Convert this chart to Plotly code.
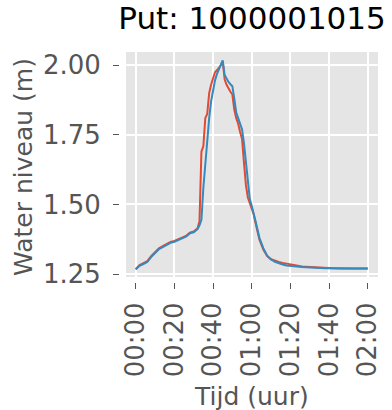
import plotly.graph_objects as go

# tijd in minuten
minuten = [0, 2, 4, 6, 8, 10, 12, 14, 16, 18, 20, 22, 24, 26, 28, 30, 32, 33, 34, 35,
           36, 37, 38, 39, 40, 41, 42, 43, 44, 45, 46, 47, 48, 49, 50, 51, 52, 53, 54, 55,
           56, 57, 58, 59, 60, 61, 62, 64, 66, 68, 70, 72, 74, 76, 78, 80, 82, 84, 86, 88,
           90, 94, 98, 102, 106, 110, 114, 118, 120]

niveau_rood = [1.267, 1.282, 1.289, 1.296, 1.314, 1.328, 1.342, 1.350, 1.359, 1.365,
               1.369, 1.374, 1.381, 1.387, 1.399, 1.403, 1.414, 1.440, 1.690, 1.710,
               1.810, 1.825, 1.900, 1.930, 1.955, 1.975, 1.982, 1.990, 2.000, 2.015,
               1.950, 1.930, 1.915, 1.905, 1.895, 1.840, 1.810, 1.790, 1.760, 1.735,
               1.650, 1.570, 1.525, 1.505, 1.490, 1.465, 1.432, 1.373, 1.338, 1.314,
               1.303, 1.297, 1.293, 1.290, 1.287, 1.284, 1.281, 1.279, 1.277, 1.276,
               1.275, 1.273, 1.272, 1.271, 1.270, 1.270, 1.270, 1.270, 1.270]

niveau_blauw = [1.267, 1.279, 1.286, 1.293, 1.311, 1.325, 1.339, 1.347, 1.356, 1.362,
                1.366, 1.371, 1.378, 1.384, 1.396, 1.400, 1.411, 1.425, 1.445, 1.560,
                1.650, 1.740, 1.810, 1.870, 1.915, 1.945, 1.968, 1.985, 1.995, 2.018,
                1.965, 1.950, 1.940, 1.932, 1.925, 1.880, 1.830, 1.810, 1.790, 1.770,
                1.720, 1.650, 1.575, 1.520, 1.495, 1.470, 1.440, 1.380, 1.343, 1.316,
                1.302, 1.294, 1.288, 1.284, 1.281, 1.279, 1.277, 1.276, 1.275, 1.274,
                1.273, 1.272, 1.271, 1.271, 1.270, 1.270, 1.270, 1.270, 1.270]

x_ticks = [0, 20, 40, 60, 80, 100, 120]
x_labels = ["00:00", "00:20", "00:40", "01:00", "01:20", "01:40", "02:00"]
y_ticks = [1.25, 1.50, 1.75, 2.00]
y_labels = ["1.25", "1.50", "1.75", "2.00"]

grijs = "#555555"

fig = go.Figure()
fig.add_trace(go.Scatter(x=minuten, y=niveau_rood, mode="lines",
                         line=dict(color="#E24A33", width=2)))
fig.add_trace(go.Scatter(x=minuten, y=niveau_blauw, mode="lines",
                         line=dict(color="#348ABD", width=2)))

# grijze achtergrond iets ingesprongen, zodat de ticks los van het vlak staan
fig.add_shape(type="rect", xref="x domain", yref="y domain",
              x0=0.0233, x1=1, y0=0.0217, y1=1,
              fillcolor="#E5E5E5", line_width=0, layer="below")

# x-as titel als annotatie, standoff wordt anders door de marge afgekapt
fig.add_annotation(text="Tijd (uur)", xref="paper", yref="paper",
                   x=0.5116, y=-0.4957, xanchor="center", yanchor="middle",
                   showarrow=False, font=dict(size=25, color=grijs))

fig.update_layout(
    width=392, height=410,
    margin=dict(l=120, r=14, t=52, b=128),
    plot_bgcolor="white", paper_bgcolor="white",
    showlegend=False,
    font=dict(family="DejaVu Sans", color=grijs),
    title=dict(text="Put: 1000001015", x=0.643, xanchor="center",
               y=0.983, yanchor="top",
               font=dict(size=31, color="black")),
)
fig.update_xaxes(range=[-8.1, 125.3], tickvals=x_ticks, ticktext=x_labels,
                 tickangle=-90, ticks="outside", ticklen=6, tickwidth=1.3,
                 tickcolor=grijs, tickfont=dict(size=26, color=grijs),
                 ticklabelstandoff=3,
                 showgrid=True, gridcolor="white", gridwidth=1.5, zeroline=False,
                 showline=False, automargin=False)
fig.update_yaxes(range=[1.2213, 2.0478], tickvals=y_ticks, ticktext=y_labels,
                 ticks="outside", ticklen=6, tickwidth=1.3,
                 tickcolor=grijs, tickfont=dict(size=26, color=grijs),
                 ticklabelstandoff=7,
                 showgrid=True, gridcolor="white", gridwidth=1.5, zeroline=False,
                 showline=False, automargin=False,
                 title=dict(text="Water niveau (m)", font=dict(size=25, color=grijs), standoff=3))

# body-marge van de pagina weg, anders schuift alles 8px op
fig.write_html("out.html", config={"displayModeBar": False},
               post_script="document.body.style.margin='0';")
